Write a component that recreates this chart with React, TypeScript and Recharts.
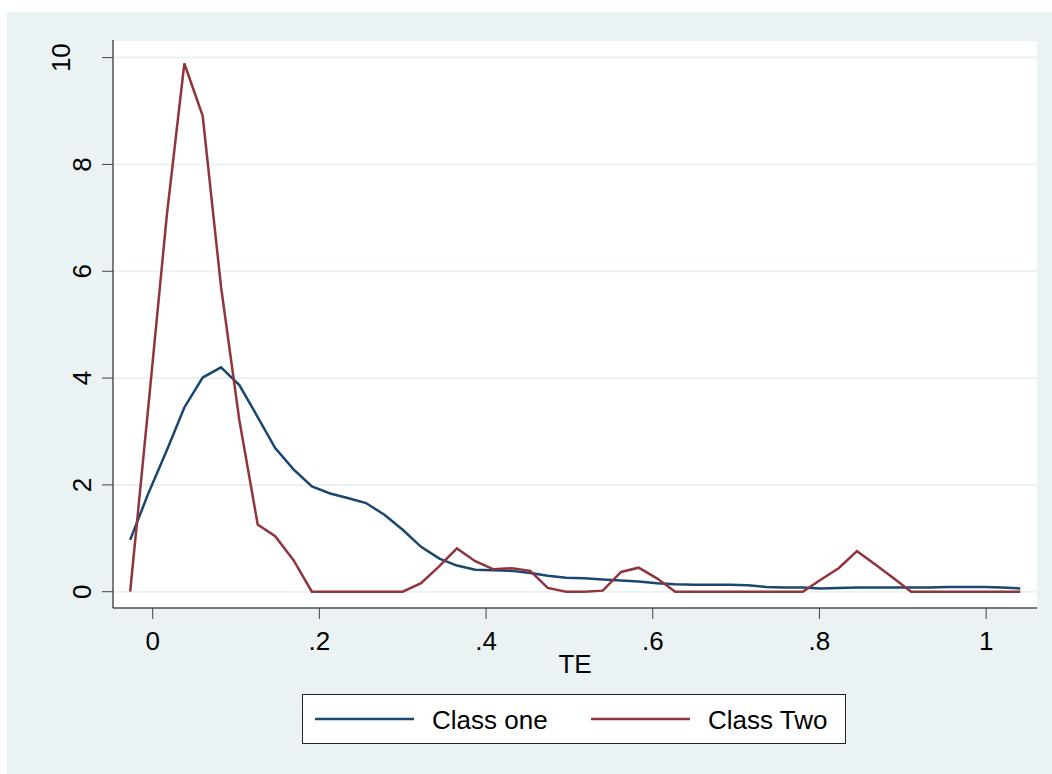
import React from "react";
import { LineChart, Line, XAxis, YAxis, CartesianGrid, Legend } from "recharts";

// TE grid (kdensity evaluation points)
const te = [
  -0.027, -0.005, 0.017, 0.038, 0.06, 0.082, 0.104, 0.126, 0.147, 0.169,
  0.191, 0.213, 0.235, 0.256, 0.278, 0.3, 0.322, 0.344, 0.365, 0.387,
  0.409, 0.431, 0.453, 0.474, 0.496, 0.518, 0.54, 0.562, 0.583, 0.605,
  0.627, 0.649, 0.671, 0.692, 0.714, 0.736, 0.758, 0.78, 0.801, 0.823,
  0.845, 0.867, 0.889, 0.91, 0.932, 0.954, 0.976, 0.998, 1.019, 1.041,
];

const classOne = [
  0.97, 1.85, 2.65, 3.45, 4.01, 4.2, 3.87, 3.27, 2.69, 2.29,
  1.97, 1.84, 1.75, 1.66, 1.44, 1.16, 0.84, 0.62, 0.49, 0.41,
  0.4, 0.39, 0.35, 0.3, 0.26, 0.25, 0.23, 0.21, 0.19, 0.16,
  0.14, 0.13, 0.13, 0.13, 0.12, 0.09, 0.08, 0.08, 0.06, 0.07,
  0.08, 0.08, 0.08, 0.08, 0.08, 0.09, 0.09, 0.09, 0.08, 0.06,
];

const classTwo = [
  0, 3.5, 7.05, 9.89, 8.91, 5.71, 3.21, 1.26, 1.04, 0.59,
  0, 0, 0, 0, 0, 0, 0.16, 0.48, 0.81, 0.57,
  0.42, 0.44, 0.39, 0.07, 0, 0, 0.02, 0.37, 0.45, 0.25,
  0, 0, 0, 0, 0, 0, 0, 0, 0.22, 0.44,
  0.76, 0.51, 0.25, 0, 0, 0, 0, 0, 0, 0,
];

const seriesNames = ["Class one", "Class Two"];
const xTicks = [0, 0.2, 0.4, 0.6, 0.8, 1];
const yTicks = [0, 2, 4, 6, 8, 10];

const data = te.map((x, i) => ({ te: x, one: classOne[i], two: classTwo[i] }));

const FONT = "Arial, 'Liberation Sans', sans-serif";
const BLUE = "#1a476f";
const RED = "#90353b";
const PANEL = "#eaf2f3";

const fmtX = (v: number) => (v === 0 ? "0" : v === 1 ? "1" : String(v).replace(/^0/, ""));

const XTick = (props: any) => {
  const { x, payload } = props;
  return (
    <text x={x} y={650} textAnchor="middle" fontSize={26} fontFamily={FONT} fill="#000">
      {fmtX(payload.value)}
    </text>
  );
};

const YTick = (props: any) => {
  const { y, payload } = props;
  const bx = payload.value === 10 ? 70 : 91;
  return (
    <text x={bx} y={y} transform={`rotate(-90 ${bx} ${y})`} textAnchor="middle"
      fontSize={26} fontFamily={FONT} fill="#000">
      {payload.value}
    </text>
  );
};

const LegendBox = (props: any) => {
  const items = [...(props.payload ?? [])].sort(
    (a: any, b: any) => seriesNames.indexOf(a.value) - seriesNames.indexOf(b.value)
  );
  return (
    <svg width={545} height={51} style={{ display: "block" }}>
      <rect x={0.5} y={0.5} width={543} height={49} fill="#fff" stroke="#222" strokeWidth={1} />
      {items.map((it: any, i: number) => {
        const x0 = i === 0 ? 13 : 289;
        return (
          <g key={i}>
            <line x1={x0} x2={x0 + 99} y1={25} y2={25} stroke={it.color} strokeWidth={2.5} />
            <text x={x0 + 117} y={35} fontSize={26} fontFamily={FONT} fill="#000">{it.value}</text>
          </g>
        );
      })}
    </svg>
  );
};

export default function App() {
  return (
    <div style={{ position: "absolute", left: 0, top: 0, width: 1052, height: 774, background: "#fff" }}>
      <div style={{ position: "absolute", left: 7, top: 12, width: 1045, height: 762, background: PANEL }} />
      <div style={{ position: "absolute", left: 0, top: 0 }}>
        <LineChart width={1052} height={774} data={data} margin={{ top: 40, right: 15, left: 0, bottom: 46 }}>
          <CartesianGrid vertical={false} horizontal fill="#fff" stroke={PANEL} strokeWidth={2} />
          <XAxis dataKey="te" type="number" domain={[-0.0476, 1.061]} ticks={xTicks}
            allowDataOverflow height={120} tickSize={11} stroke="#000"
            tickLine={{ stroke: "#444" }} tick={<XTick />}
            label={{ value: "TE", position: "insideTop", offset: 47, fontSize: 26, fill: "#000", fontFamily: FONT }} />
          <YAxis type="number" domain={[-0.305, 10.33]} ticks={yTicks} allowDataOverflow
            width={113} tickSize={11} stroke="#000" tickLine={{ stroke: "#444" }} tick={<YTick />} />
          <Legend layout="horizontal" verticalAlign="middle" align="center" content={<LegendBox />}
            wrapperStyle={{ position: "absolute", left: 302, top: 694, width: 545, height: 51 }} />
          <Line type="linear" dataKey="one" name={seriesNames[0]} stroke={BLUE} strokeWidth={2.5}
            dot={false} isAnimationActive={false} />
          <Line type="linear" dataKey="two" name={seriesNames[1]} stroke={RED} strokeWidth={2.5}
            dot={false} isAnimationActive={false} />
        </LineChart>
      </div>
    </div>
  );
}
